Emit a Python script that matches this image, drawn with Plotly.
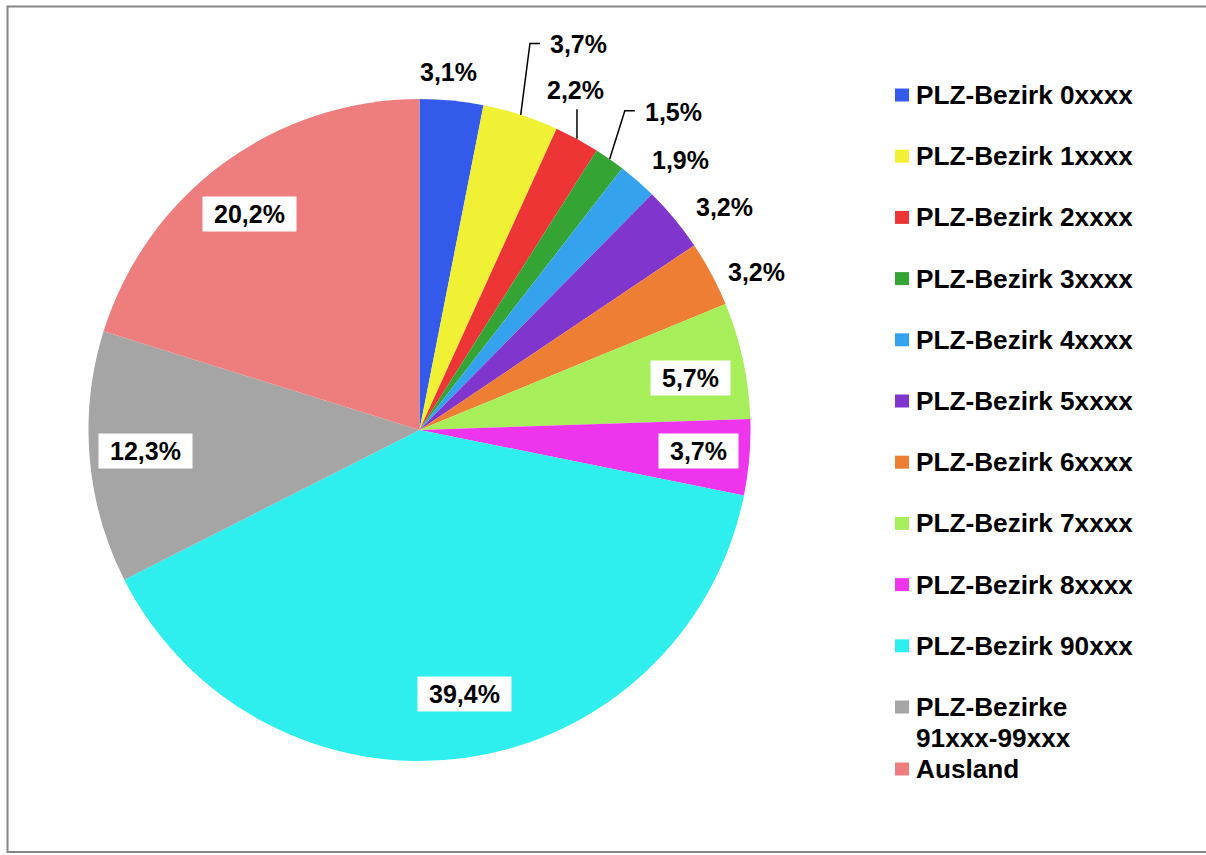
import math
import plotly.graph_objects as go

# ---- data ----
categories = [
    "PLZ-Bezirk 0xxxx", "PLZ-Bezirk 1xxxx", "PLZ-Bezirk 2xxxx", "PLZ-Bezirk 3xxxx",
    "PLZ-Bezirk 4xxxx", "PLZ-Bezirk 5xxxx", "PLZ-Bezirk 6xxxx", "PLZ-Bezirk 7xxxx",
    "PLZ-Bezirk 8xxxx", "PLZ-Bezirk 90xxx", "PLZ-Bezirke<br>91xxx-99xxx", "Ausland",
]
values = [3.1, 3.7, 2.2, 1.5, 1.9, 3.2, 3.2, 5.7, 3.7, 39.4, 12.3, 20.2]
colors = [
    "#345AEC", "#F0F035", "#EE3535", "#34A434", "#35A2EE", "#8035CC",
    "#EF7E35", "#A6EF5A", "#EE35EE", "#2EEEEE", "#A5A5A5", "#EE7E7E",
]

# ---- layout / style parameters ----
W, H = 1206, 855
CX, CY, R = 419.5, 430.0, 331.0
FONT = "Liberation Sans, Arial, sans-serif"
LABEL_SIZE = 25
LEGEND_SIZE = 26.2
# per-label placement: (mode, radial factor, angle nudge in degrees, leader type)
label_style = [
    ("out", 1.085, -1.0, None),
    ("out", 1.26, 4.6, "bend"),
    ("out", 1.13, -3.7, "straight"),
    ("out", 1.23, 3.5, "bend"),
    ("out", 1.135, 2.9, None),
    ("out", 1.14, 3.5, None),
    ("out", 1.126, 3.0, None),
    ("in", 0.835, 1.3, None),
    ("in", 0.846, -0.4, None),
    ("in", 0.81, -1.9, None),
    ("in", 0.83, 0.3, None),
    ("in", 0.83, -2.0, None),
]


def px(x, y):
    return x / W, (H - y) / H


def text_width(s, size):
    widths = {",": 0.278, "%": 0.889}
    return sum(widths.get(c, 0.556) for c in s) * size


fig = go.Figure()
fig.add_trace(go.Pie(
    labels=categories,
    values=values,
    sort=False,
    direction="clockwise",
    rotation=0,
    marker=dict(colors=colors, line=dict(width=0)),
    textinfo="none",
    hoverinfo="label+percent",
    showlegend=False,
    domain=dict(x=[(CX - R) / W, (CX + R) / W], y=[(H - CY - R) / H, (H - CY + R) / H]),
))

annotations = []
shapes = []
total = sum(values)
cum = 0.0
for i, v in enumerate(values):
    mid = (cum + v / 2) / total * 360.0
    cum += v
    mode, rf, dang, leader = label_style[i]
    a = math.radians(mid + dang)
    lx = CX + rf * R * math.sin(a)
    ly = CY - rf * R * math.cos(a)
    txt = f"{v:.1f}".replace(".", ",") + "%"
    tw = text_width(txt, LABEL_SIZE)
    xp, yp = px(lx, ly)
    ann = dict(
        x=xp, y=yp, xref="paper", yref="paper", text=txt, showarrow=False,
        font=dict(family=FONT, size=LABEL_SIZE, color="black", weight="bold"),
        xanchor="center", yanchor="middle",
    )
    if mode == "in":
        ann.update(bgcolor="white", width=tw + 22, height=34, borderpad=0)
    annotations.append(ann)

    if leader:
        am = math.radians(mid)
        ex = CX + R * math.sin(am)
        ey = CY - R * math.cos(am)
        if leader == "bend":
            left = lx - tw / 2
            pts = [(ex, ey), (left - 20, ly - 1), (left - 10, ly - 1)]
        else:
            pts = [(ex, ey), (ex, ly + 19)]
        path = ""
        for k, (x, y) in enumerate(pts):
            p = px(x, y)
            path += ("M" if k == 0 else " L") + f"{p[0]:.5f},{p[1]:.5f}"
        shapes.append(dict(type="path", path=path, xref="paper", yref="paper",
                           line=dict(color="black", width=1.5)))

# ---- manual legend ----
LEG_X, LEG_Y0, LEG_STEP, LINE_H = 895, 95.0, 61.2, 31.0
y = LEG_Y0
for i, (cat, col) in enumerate(zip(categories, colors)):
    lines = cat.split("<br>")
    x0, y0 = px(LEG_X, y - 6.5)
    x1, y1 = px(LEG_X + 14, y + 6.5)
    shapes.append(dict(type="rect", xref="paper", yref="paper", x0=x0, x1=x1, y0=y1, y1=y0,
                       fillcolor=col, line=dict(width=0)))
    for j, line in enumerate(lines):
        tx, ty = px(LEG_X + 20, y + j * LINE_H)
        annotations.append(dict(
            x=tx, y=ty, xref="paper", yref="paper", text=line, showarrow=False,
            xanchor="left", yanchor="middle", align="left", borderpad=0,
            font=dict(family=FONT, size=LEGEND_SIZE, color="black", weight="bold"),
        ))
    if len(lines) > 1:
        y += LINE_H * len(lines)
    else:
        y += LEG_STEP

# ---- chart border ----
bx0, by0 = px(7.5, 852)
bx1, by1 = px(1210, 6.5)
shapes.append(dict(type="rect", xref="paper", yref="paper", x0=bx0, x1=bx1, y0=by0, y1=by1,
                   line=dict(color="#858585", width=2), fillcolor="rgba(0,0,0,0)"))

fig.update_layout(
    width=W, height=H, autosize=False,
    margin=dict(l=0, r=0, t=0, b=0),
    paper_bgcolor="white", plot_bgcolor="white",
    annotations=annotations, shapes=shapes,
    showlegend=False,
)

fig.write_html(
    "out.html",
    config={"displayModeBar": False},
    post_script="document.body.style.margin='0';document.body.style.overflow='hidden';",
)
